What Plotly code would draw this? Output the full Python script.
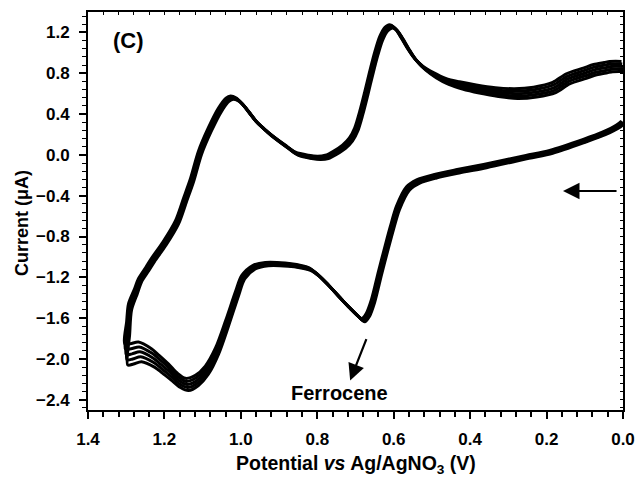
import plotly.graph_objects as go

# Forward scan (0.0 V -> 1.3 V): centre of the cycle bundle and per-cycle spread
fwd_E = [0.0, 0.013, 0.05, 0.1, 0.188, 0.25, 0.361, 0.43, 0.492, 0.536, 0.563, 0.589,
         0.605, 0.618, 0.636, 0.654, 0.668, 0.68, 0.696, 0.715, 0.733, 0.755, 0.775, 0.80,
         0.819, 0.85, 0.88, 0.932, 0.965, 0.994, 1.01, 1.036, 1.062, 1.089, 1.115, 1.141,
         1.162, 1.185, 1.21, 1.23, 1.264, 1.285, 1.3]
fwd_I = [0.32, 0.28, 0.21, 0.14, 0.03, -0.02, -0.11, -0.16, -0.21, -0.26, -0.33, -0.52,
         -0.72, -0.90, -1.16, -1.43, -1.57, -1.62, -1.57, -1.50, -1.43, -1.34, -1.26, -1.17,
         -1.12, -1.09, -1.075, -1.07, -1.10, -1.20, -1.36, -1.65, -1.92, -2.11, -2.21, -2.25,
         -2.21, -2.13, -2.05, -1.99, -1.93, -1.95, -1.955]
fwd_spread = [0.006, 0.006, 0.006, 0.006, 0.007, 0.007, 0.008, 0.008, 0.008, 0.008, 0.008,
              0.008, 0.008, 0.008, 0.008, 0.008, 0.008, 0.008, 0.008, 0.008, 0.008, 0.008,
              0.008, 0.008, 0.008, 0.008, 0.008, 0.008, 0.008, 0.008, 0.01, 0.012, 0.015,
              0.02, 0.025, 0.03, 0.035, 0.04, 0.043, 0.045, 0.048, 0.05, 0.052]

# Reverse scan (1.3 V -> 0.0 V)
rev_E = [1.295, 1.29, 1.275, 1.264, 1.245, 1.23, 1.2, 1.167, 1.146, 1.128, 1.107, 1.081,
         1.055, 1.035, 1.023, 1.008, 0.994, 0.975, 0.958, 0.935, 0.916, 0.88, 0.853, 0.819,
         0.795, 0.775, 0.754, 0.73, 0.712, 0.698, 0.685, 0.672, 0.659, 0.645, 0.633, 0.62,
         0.607, 0.594, 0.581, 0.562, 0.544, 0.52, 0.492, 0.46, 0.424, 0.38, 0.33, 0.28,
         0.23, 0.18, 0.144, 0.1, 0.073, 0.045, 0.031, 0.015, 0.0]
rev_I = [-1.70, -1.49, -1.34, -1.23, -1.12, -1.03, -0.87, -0.66, -0.44, -0.25, 0.02, 0.25,
         0.44, 0.54, 0.56, 0.54, 0.49, 0.40, 0.32, 0.24, 0.18, 0.08, 0.01, -0.02, -0.03,
         -0.02, 0.02, 0.08, 0.15, 0.25, 0.41, 0.60, 0.80, 1.0, 1.14, 1.23, 1.26, 1.23,
         1.16, 1.04, 0.94, 0.85, 0.78, 0.72, 0.68, 0.645, 0.615, 0.60, 0.615, 0.66, 0.745,
         0.80, 0.835, 0.855, 0.865, 0.868, 0.865]
rev_spread = [0.03, 0.015, 0.01, 0.008, 0.008, 0.008, 0.008, 0.008, 0.008, 0.008, 0.008,
              0.008, 0.008, 0.008, 0.008, 0.008, 0.008, 0.008, 0.008, 0.008, 0.008, 0.008,
              0.008, 0.008, 0.008, 0.008, 0.008, 0.008, 0.008, 0.008, 0.008, 0.008, 0.008,
              0.008, 0.008, 0.008, 0.008, 0.008, 0.008, 0.008, 0.009, 0.01, 0.013, 0.015,
              0.018, 0.02, 0.022, 0.024, 0.024, 0.025, 0.025, 0.025, 0.025, 0.025, 0.025,
              0.025, 0.025]

# five overlapping cycles: position in the bundle and slight potential offset
cycle_pos = [2, 1, 0, -1, -2]
cycle_dE = [0.004, 0.002, 0.0, -0.002, -0.004]

fig = go.Figure()
for pos, dE in zip(cycle_pos, cycle_dE):
    E = [e + dE for e in fwd_E + rev_E]
    I = [v + pos * s for v, s in zip(fwd_I, fwd_spread)] + \
        [v + pos * s for v, s in zip(rev_I, rev_spread)]
    fig.add_trace(go.Scatter(x=E, y=I, mode="lines",
                             line=dict(color="black", width=3.0, shape="spline", smoothing=0.8),
                             showlegend=False, hoverinfo="skip"))

# dummy trace for the mirrored (top/right) axes
fig.add_trace(go.Scatter(x=[None], y=[None], xaxis="x2", yaxis="y2", showlegend=False))

font_family = "Arial, Liberation Sans, sans-serif"
xr = [1.4, 0.0]
yr = [-2.5, 1.4]

fig.update_layout(
    width=638, height=481,
    margin=dict(l=88, r=15, t=12, b=71, autoexpand=False),
    paper_bgcolor="white", plot_bgcolor="white",
    font=dict(family=font_family, color="black"),
    xaxis=dict(range=xr, showgrid=False, zeroline=False, showline=True, linecolor="black",
               linewidth=2, ticks="outside", ticklen=7, tickwidth=1.5, tickcolor="black",
               dtick=0.2, tick0=0, tickformat=".1f", automargin=False, ticklabelstandoff=6,
               tickfont=dict(size=17, weight="bold", family=font_family),
               minor=dict(dtick=0.04, ticks="outside", ticklen=5, tickwidth=1.5, tickcolor="black")),
    yaxis=dict(range=yr, showgrid=False, zeroline=False, showline=True, linecolor="black",
               linewidth=2, ticks="outside", ticklen=7, tickwidth=1.5, tickcolor="black",
               dtick=0.4, tick0=0, tickformat=".1f", automargin=False, ticklabelstandoff=6,
               tickfont=dict(size=17, weight="bold", family=font_family),
               minor=dict(dtick=0.08, ticks="outside", ticklen=4, tickwidth=1.2, tickcolor="black")),
    xaxis2=dict(range=xr, overlaying="x", side="top", showgrid=False, zeroline=False,
                showline=True, linecolor="black", linewidth=1.5, ticks="inside", ticklen=3,
                tickwidth=1, tickcolor="black", dtick=0.04, tick0=0, showticklabels=False,
                automargin=False),
    yaxis2=dict(range=yr, overlaying="y", side="right", showgrid=False, zeroline=False,
                showline=True, linecolor="black", linewidth=1.5, ticks="inside", ticklen=3,
                tickwidth=1, tickcolor="black", dtick=0.08, tick0=0, showticklabels=False,
                automargin=False),
)

# axis titles
fig.add_annotation(x=0.5, y=-0.138, xref="paper", yref="paper",
                   text="<b>Potential <i>vs</i> Ag/AgNO<sub>3</sub> (V)</b>", showarrow=False,
                   xanchor="center", yanchor="middle", font=dict(size=19.5, family=font_family))
fig.add_annotation(x=-0.1234, y=0.47, xref="paper", yref="paper",
                   text="<b>Current (μA)</b>", textangle=-90, showarrow=False,
                   xanchor="center", yanchor="middle", font=dict(size=18, family=font_family))

fig.add_annotation(x=1.295, y=1.12, xref="x", yref="y", text="<b>(C)</b>", showarrow=False,
                   xanchor="center", yanchor="middle", font=dict(size=22, family=font_family))
fig.add_annotation(x=0.743, y=-2.33, xref="x", yref="y", text="<b>Ferrocene</b>",
                   showarrow=False, xanchor="center", yanchor="middle",
                   font=dict(size=20, family=font_family))
# scan direction arrow
fig.add_annotation(x=0.157, y=-0.354, ax=0.013, ay=-0.354, xref="x", yref="y", axref="x",
                   ayref="y", text="", showarrow=True, arrowhead=2, arrowsize=1.5,
                   arrowwidth=2.2, arrowcolor="black")
# ferrocene arrow
fig.add_annotation(x=0.714, y=-2.21, ax=0.670, ay=-1.79, xref="x", yref="y", axref="x",
                   ayref="y", text="", showarrow=True, arrowhead=2, arrowsize=1.5,
                   arrowwidth=2.2, arrowcolor="black")

fig.write_html("out.html", config={"displayModeBar": False},
               post_script="document.body.style.margin='0';document.body.style.padding='0';")
